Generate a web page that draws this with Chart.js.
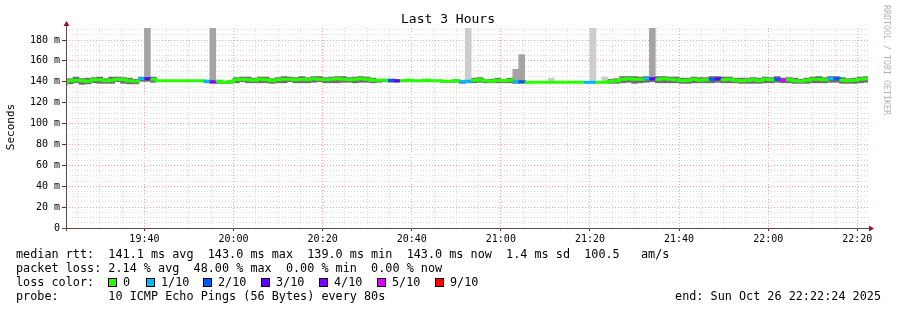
<!DOCTYPE html>
<html lang="en">
<head>
<meta charset="UTF-8">
<title>Last 3 Hours</title>
<script src="https://cdn.jsdelivr.net/npm/chart.js"></script>
<style>
  html, body { margin: 0; padding: 0; background: #fff; }
  #wrap { position: relative; width: 897px; height: 310px; overflow: hidden; }
  #chart { position: absolute; left: 0; top: 0; }
  .leg { position: absolute; font-family: 'DejaVu Sans Mono', monospace; font-size: 11.8px; line-height: 14px; white-space: pre; color: #000; }
  .box { position: absolute; width: 7px; height: 7px; border: 1px solid #000; }
</style>
</head>
<body>
<div id="wrap">
  <canvas id="chart" width="897" height="310"></canvas>
  <div class="leg" style="left:16px;top:247px">median rtt:  141.1 ms avg  143.0 ms max  139.0 ms min  143.0 ms now  1.4 ms sd  100.5   am/s</div>
  <div class="leg" style="left:16px;top:261px">packet loss: 2.14 % avg  48.00 % max  0.00 % min  0.00 % now</div>
  <div class="leg" style="left:16px;top:275px">loss color:</div>
  <div id="lossLegend"></div>
  <div class="leg" style="left:16px;top:289px">probe:       10 ICMP Echo Pings (56 Bytes) every 80s</div>
  <div class="leg" style="right:16px;top:289px">end: Sun Oct 26 22:22:24 2025</div>
</div>
<script>
// time axis in minutes after 19:00, one step = 80 s
const firstStepMin = 21 + 20 / 60;   // 19:21:20
const stepMin = 80 / 60;
const viewStart = 22.4;              // 19:22:24
const viewEnd = 202.4;               // 22:22:24

const tickMinutes = [40, 60, 80, 100, 120, 140, 160, 180, 200];
const tickLabels = ['19:40', '20:00', '20:20', '20:40', '21:00', '21:20', '21:40', '22:00', '22:20'];

// median rtt per step (ms)
const median = [
  139.5, 141, 141.5, 141, 140.5, 142, 142, 141, 141.5, 142.5,
  142, 141, 140.5, 143, 143, 142.5, 141, 141, 141, 141,
  141, 141, 141, 141, 140.5, 140, 140.5, 139.5, 140, 142,
  142.5, 142, 141.5, 142.5, 142, 141, 142, 142.5, 142.5, 142,
  142.5, 142, 143, 142.5, 142, 142.5, 143, 142.5, 142, 142.5,
  143, 142.5, 141.5, 141.5, 141.5, 141.5, 141, 141, 141.5, 141,
  141, 141.5, 141, 141, 140.5, 140.5, 141, 140, 140.5, 141.5,
  142, 141, 140.5, 141.5, 141, 141.5, 140, 140, 139.5, 139.5,
  139.5, 139.5, 139.5, 139.5, 139.5, 139.5, 139.5, 139.5, 139.5, 139.5,
  139.5, 139.5, 140.5, 141, 142.5, 143, 142.5, 142.5, 143, 143,
  142.5, 143, 142.5, 142, 141, 141.5, 142.5, 141.5, 142, 142.5,
  143, 142, 142.5, 141.5, 141, 141.5, 142, 141, 142.5, 142,
  142.5, 141.5, 142, 141, 140.5, 141.5, 142.5, 142.5, 142, 143,
  143, 141.5, 141, 141.5, 142.5, 143
];

// smoke spread below / above the median per step (ms)
const smokeBelow = [
  2.5, 3, 2.5, 3.5, 2.5, 3, 3.5, 2.5, 3, 2.5,
  3.5, 3, 2.5, 2.5, 2.5, 3, 0.5, 0, 0, 0,
  0, 0, 0, 0.5, 1.5, 1.5, 2, 1, 1.5, 3,
  2.5, 3, 2.5, 3.5, 3, 2.5, 3, 3.5, 2.5, 3,
  3.5, 3, 3.5, 2.5, 3, 3.5, 4, 3, 2.5, 3.5,
  3.5, 3, 2.5, 2, 1.5, 2, 1.5, 1, 1.5, 1,
  1, 1.5, 1, 1, 1, 1, 1.5, 1.5, 1.5, 2.5,
  2.5, 2, 1.5, 2.5, 2, 2.5, 1.5, 1.5, 0.5, 0,
  0, 0, 0, 0, 0, 0, 0, 0, 0.5, 0.5,
  0.5, 0.5, 2, 2.5, 3.5, 3.5, 4, 3.5, 3.5, 3,
  3.5, 4, 3.5, 3, 2.5, 3, 3.5, 2.5, 3, 3.5,
  3.5, 3, 3.5, 2.5, 2.5, 3, 3.5, 2.5, 3.5, 3,
  3, 2.5, 3, 2.5, 2, 3, 3.5, 3.5, 3, 3.5,
  3.5, 3, 2.5, 3, 3.5, 3.5
];
const smokeAbove = [
  2.5, 2, 3, 2, 3, 2, 2.5, 2, 3, 2,
  2, 2.5, 2, 1.5, 1.5, 2, 0, 0, 0, 0,
  0, 0, 0, 0, 1, 1, 1, 0.5, 1, 2,
  2, 2.5, 2, 2, 2.5, 2, 2, 2.5, 2, 2,
  2.5, 2, 2, 2.5, 2, 2, 2, 2.5, 2, 2,
  2, 2, 2, 1, 1, 1, 1, 0.5, 1, 0.5,
  0.5, 1, 0.5, 0.5, 0.5, 0.5, 1, 1, 1, 2,
  2, 1, 2, 2, 1, 2, 1.5, 1.5, 0, 0,
  0, 0, 0, 0, 0, 0, 0, 0, 0, 0,
  0, 0, 2, 2, 2.5, 2, 2.5, 2, 2, 2,
  2.5, 2, 2, 2.5, 2.5, 2, 2, 2.5, 2, 2.5,
  2, 2.5, 2, 2, 2.5, 2, 2, 2.5, 2, 2,
  2.5, 2, 2, 2.5, 2, 2, 2, 2.5, 2, 2,
  2, 2.5, 2, 2, 2, 2
];

// single slow pings sticking out of the smoke
const spikeStep = [14, 25, 68, 76, 77, 82, 89, 91, 99];
const spikeTop = [260, 260, 260, 152, 166, 143.5, 260, 144.5, 260];
const spikeTone = ['#a4a4a4', '#a4a4a4', '#cdcdcd', '#a4a4a4', '#a4a4a4', '#cdcdcd', '#cdcdcd', '#cdcdcd', '#a4a4a4'];

// lost pings (out of 10) per step, only steps with loss
const lossStep = [13, 14, 24, 25, 55, 56, 67, 68, 76, 77, 88, 89, 98, 99, 109, 110, 120, 121, 129, 130];
const lossCount = [1, 3, 1, 4, 2, 3, 1, 1, 1, 2, 1, 1, 1, 3, 2, 3, 2, 5, 1, 2];

const lossBins = [0, 1, 2, 3, 4, 5, 9];
const lossLabels = ['0', '1/10', '2/10', '3/10', '4/10', '5/10', '9/10'];
const lossColors = ['#26ff00', '#00b8ff', '#0059ff', '#5e00ff', '#7e00ff', '#dd00ff', '#ff0000'];
const lossBoxX = [108, 146, 203, 261, 319, 377, 435];

const monoFont = "'DejaVu Sans Mono', monospace";
const majorGrid = 'rgb(255,160,160)';
const minorGrid = 'rgb(218,218,218)';

function colorForStep(i) {
  const k = lossStep.indexOf(i);
  const lost = k < 0 ? 0 : lossCount[k];
  let c = lossColors[0];
  lossBins.forEach((b, j) => { if (lost >= b) c = lossColors[j]; });
  return c;
}

// loss colour legend
const lossLegend = document.getElementById('lossLegend');
lossLabels.forEach((lab, j) => {
  const box = document.createElement('div');
  box.className = 'box';
  box.style.left = lossBoxX[j] + 'px';
  box.style.top = '278px';
  box.style.background = lossColors[j];
  lossLegend.appendChild(box);
  const t = document.createElement('div');
  t.className = 'leg';
  t.style.left = (lossBoxX[j] + 15) + 'px';
  t.style.top = '275px';
  t.textContent = lab;
  lossLegend.appendChild(t);
});

const medianPts = median.map((v, i) => ({ x: firstStepMin + i * stepMin, y: v }));
medianPts.push({ x: firstStepMin + median.length * stepMin, y: median[median.length - 1] });
const smokePts = median.map((v, i) => ({ x: firstStepMin + (i + 0.5) * stepMin, y: [v - smokeBelow[i], v + smokeAbove[i]] }));
const spikePts = spikeStep.map((s, k) => ({ x: firstStepMin + (s + 0.5) * stepMin, y: [median[s] + smokeAbove[s], spikeTop[k]] }));

const minorX = [];
for (let m = 25; m <= 200; m += 5) minorX.push(m);
const minorY = [];
for (let v = 0; v <= 190; v += 5) minorY.push(v);

const isMajor = c => c.tick && c.tick.value % 20 === 0;

const decor = {
  id: 'decor',
  afterDraw(chart) {
    const c = chart.ctx;
    const a = chart.chartArea;
    c.save();
    c.strokeStyle = '#5a4a4a';
    c.lineWidth = 1;
    c.beginPath();
    c.moveTo(a.left + 0.5, a.top - 3);
    c.lineTo(a.left + 0.5, a.bottom + 3);
    c.moveTo(a.left - 4, a.bottom + 0.5);
    c.lineTo(a.right + 2, a.bottom + 0.5);
    c.stroke();
    c.fillStyle = '#8b1a1a';
    c.beginPath();
    c.moveTo(a.left + 0.5, a.top - 7);
    c.lineTo(a.left - 2.5, a.top - 2);
    c.lineTo(a.left + 3.5, a.top - 2);
    c.closePath();
    c.fill();
    c.beginPath();
    c.moveTo(a.right + 6, a.bottom + 0.5);
    c.lineTo(a.right + 1, a.bottom - 2.5);
    c.lineTo(a.right + 1, a.bottom + 3.5);
    c.closePath();
    c.fill();

    c.fillStyle = '#000';
    c.font = '13px ' + monoFont;
    c.textAlign = 'center';
    c.textBaseline = 'middle';
    c.fillText('Last 3 Hours', 448, 20);

    c.font = '11px ' + monoFont;
    c.translate(11, 127);
    c.rotate(-Math.PI / 2);
    c.fillText('Seconds', 0, 0);
    c.restore();

    c.save();
    c.fillStyle = '#b4b4b4';
    c.font = '8.3px ' + monoFont;
    c.translate(886, 5);
    c.rotate(Math.PI / 2);
    c.textAlign = 'left';
    c.textBaseline = 'middle';
    c.fillText('RRDTOOL / TOBI OETIKER', 0, 0);
    c.restore();
  }
};

new Chart(document.getElementById('chart'), {
  type: 'line',
  data: {
    datasets: [
      {
        type: 'line',
        label: 'median',
        data: medianPts,
        stepped: true,
        borderWidth: 3,
        borderColor: lossColors[0],
        borderCapStyle: 'butt',
        pointRadius: 0,
        fill: false,
        segment: { borderColor: ctx => colorForStep(ctx.p0DataIndex) },
        order: 0
      },
      {
        type: 'bar',
        label: 'spikes',
        data: spikePts,
        backgroundColor: spikeTone,
        grouped: false,
        barPercentage: 1,
        categoryPercentage: 1,
        order: 1
      },
      {
        type: 'bar',
        label: 'smoke',
        data: smokePts,
        backgroundColor: '#6e6e6e',
        grouped: false,
        barPercentage: 1,
        categoryPercentage: 1,
        order: 2
      }
    ]
  },
  options: {
    responsive: false,
    animation: false,
    layout: { padding: { top: 28, right: 29, bottom: 62, left: 0 } },
    plugins: { legend: { display: false }, tooltip: { enabled: false }, title: { display: false } },
    scales: {
      x: {
        type: 'linear',
        min: viewStart,
        max: viewEnd,
        offset: false,
        afterFit: s => { s.height = 20; },
        afterBuildTicks: s => { s.ticks = minorX.map(v => ({ value: v })); },
        grid: {
          offset: false,
          color: c => isMajor(c) ? majorGrid : minorGrid,
          tickLength: 3,
          tickColor: c => isMajor(c) ? '#8b1a1a' : 'rgba(0,0,0,0)'
        },
        border: { display: false, dash: [1, 2] },
        ticks: {
          autoSkip: false,
          maxRotation: 0,
          padding: 2,
          color: '#000',
          font: { family: monoFont, size: 10 },
          callback: v => {
            const k = tickMinutes.indexOf(v);
            return k < 0 ? '' : tickLabels[k];
          }
        }
      },
      y: {
        min: 0,
        max: 191.5,
        afterFit: s => { s.width = 66; },
        afterBuildTicks: s => { s.ticks = minorY.map(v => ({ value: v })); },
        grid: {
          color: c => isMajor(c) ? majorGrid : minorGrid,
          tickLength: 4,
          tickColor: c => isMajor(c) ? '#8b1a1a' : 'rgba(0,0,0,0)'
        },
        border: { display: false, dash: [1, 2] },
        ticks: {
          autoSkip: false,
          padding: 2,
          color: '#000',
          font: { family: monoFont, size: 10 },
          callback: v => v % 20 !== 0 ? '' : (v === 0 ? '0' : v + ' m')
        }
      }
    }
  },
  plugins: [decor]
});
</script>
</body>
</html>
